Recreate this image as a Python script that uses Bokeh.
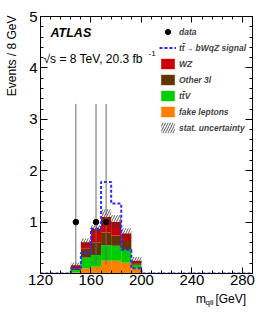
import numpy as np
from bokeh.plotting import figure
from bokeh.layouts import column, row
from bokeh.models import Range1d, FixedTicker, LinearAxis, Label, Legend, LegendItem
from bokeh.embed import file_html
from bokeh.resources import INLINE

# ---------------- data ----------------
bin_lefts = [120, 128, 136, 144, 152, 160, 168, 176, 184, 192, 200,
             208, 216, 224, 232, 240, 248, 256, 264, 272, 280]
bin_width = 8
fake_leptons = [0, 0, 0, 0.02, 0.10, 0.13, 0.25, 0.25, 0.21, 0.10, 0,
                0, 0, 0, 0, 0, 0, 0, 0, 0, 0]
ttV = [0, 0, 0, 0.05, 0.21, 0.23, 0.30, 0.29, 0.25, 0.07, 0,
       0, 0, 0, 0, 0, 0, 0, 0, 0, 0]
other_3l = [0, 0, 0, 0.03, 0.17, 0.25, 0.25, 0.20, 0.17, 0.02, 0,
            0, 0, 0, 0, 0, 0, 0, 0, 0, 0]
WZ = [0, 0, 0, 0.06, 0.13, 0.26, 0.30, 0.26, 0.15, 0.06, 0,
      0, 0, 0, 0, 0, 0, 0, 0, 0, 0]
stat_unc = [0, 0, 0, 0.05, 0.07, 0.07, 0.15, 0.14, 0.10, 0.07, 0,
            0, 0, 0, 0, 0, 0, 0, 0, 0, 0]
signal = [0, 0, 0, 0.10, 0.40, 0.87, 1.78, 1.36, 0.46, 0.10, 0,
          0, 0, 0, 0, 0, 0, 0, 0, 0, 0]
data_x = [148, 164, 172]
data_y = [1, 1, 1]
data_err_lo = [0.83, 0.83, 0.83]
data_err_hi = [2.30, 2.30, 2.30]

x_ticks = [120, 160, 200, 240, 280]
y_ticks = [1, 2, 3, 4, 5]

FONT = "Liberation Sans"
STRIP_W = 20  # left strip holding the y-axis title


def lab(fig, x, y, t, size, style="normal", align="left", baseline="middle", angle=0):
    fig.add_layout(Label(x=x, y=y, text=t, text_font=FONT, text_font_size=size,
                         text_font_style=style, text_align=align, text_baseline=baseline,
                         angle=angle, text_color="black"))


def strip(w, h):
    f = figure(width=w, height=h, x_range=Range1d(0, w), y_range=Range1d(0, h),
               output_backend="svg", toolbar_location=None,
               x_axis_type=None, y_axis_type=None,
               min_border_left=0, min_border_right=0, min_border_top=0, min_border_bottom=0)
    f.grid.visible = False
    f.outline_line_color = None
    f.background_fill_color = "white"
    return f


# ---------------- main figure ----------------
X0, X1, Y0, Y1 = 120, 288, 0, 5
p = figure(width=266 - STRIP_W, height=292, x_range=Range1d(X0, X1), y_range=Range1d(Y0, Y1),
           output_backend="svg", toolbar_location=None,
           min_border_left=40 - STRIP_W, min_border_right=14, min_border_top=16,
           min_border_bottom=19)
p.grid.visible = False
p.outline_line_color = "black"
p.outline_line_width = 1
p.background_fill_color = "white"

# picture pixel -> data helpers for text placement (frame 40..252 x 16..273)
def xd(px):
    return X0 + (px - 40) * (X1 - X0) / 212.0

def yd(py):
    return (273.0 - py) * (Y1 - Y0) / 257.0

lefts = np.array(bin_lefts, dtype=float)
rights = lefts + bin_width
layers = [("fake leptons", fake_leptons, "#ff7f00"),
          ("ttV", ttV, "#00cc00"),
          ("Other 3l", other_3l, "#663300"),
          ("WZ", WZ, "#cc0000")]
bottom = np.zeros(len(bin_lefts))
rend = {}
for name, vals, col in layers:
    v = np.array(vals, dtype=float)
    rend[name] = p.quad(left=lefts, right=rights, bottom=bottom, top=bottom + v,
                        fill_color=col, line_color=None)
    bottom = bottom + v
total = bottom
err = np.array(stat_unc)
rend["stat"] = p.quad(left=lefts, right=rights, bottom=total - err, top=total + err,
                      fill_alpha=0, line_alpha=0, hatch_pattern="/",
                      hatch_color="#333333", hatch_scale=5, hatch_weight=0.8)

edges = list(bin_lefts) + [bin_lefts[-1] + bin_width]
sig_y = list(signal) + [signal[-1]]
rend["signal"] = p.step(x=edges, y=sig_y, mode="after", line_color="#2b2bff",
                        line_dash="3 2", line_width=2)

dx = np.array(data_x, dtype=float)
dy = np.array(data_y, dtype=float)
p.segment(x0=dx, y0=dy - np.array(data_err_lo), x1=dx, y1=dy + np.array(data_err_hi),
          line_color="#6a6a6a", line_width=1)
rend["data"] = p.scatter(dx, dy, size=5.5, color="black")

# ---------------- axes ----------------
xt = FixedTicker(ticks=x_ticks, minor_ticks=list(range(120, 289, 8)))
yt = FixedTicker(ticks=y_ticks, minor_ticks=[round(0.2 * i, 1) for i in range(26)])
for ax, tk, L in ((p.xaxis[0], xt, 6), (p.yaxis[0], yt, 7)):
    ax.ticker = tk
    ax.major_tick_in = L
    ax.major_tick_out = 0
    ax.minor_tick_in = 3
    ax.minor_tick_out = 0
    ax.major_label_text_font = FONT
    ax.major_label_text_font_size = "15px"
    ax.major_label_text_color = "black"
    ax.axis_line_color = "black"
p.xaxis[0].major_label_standoff = 1
p.yaxis[0].major_label_standoff = 3

# mirrored tick marks on top and right (no labels)
for loc, tk, L in (("above", xt, 6), ("right", yt, 7)):
    ax = LinearAxis(ticker=tk, major_tick_in=L, major_tick_out=0, minor_tick_in=3,
                    minor_tick_out=0, major_label_text_font_size="0px",
                    major_label_text_color=None, major_label_text_alpha=0,
                    major_label_standoff=0, axis_line_color="black")
    p.add_layout(ax, loc)

# ---------------- texts in frame ----------------
lab(p, xd(50), yd(32), "ATLAS", "12.5px", "bold italic")
lab(p, xd(43), yd(58), "√s = 8 TeV, 20.3 fb", "12px")
lab(p, xd(148), yd(53), "-1", "8px")

# ---------------- legend ----------------
items = [LegendItem(label="data", renderers=[rend["data"]]),
         LegendItem(label="tt̄→ bWqZ signal", renderers=[rend["signal"]]),
         LegendItem(label="WZ", renderers=[rend["WZ"]]),
         LegendItem(label="Other 3l", renderers=[rend["Other 3l"]]),
         LegendItem(label="tt̄V", renderers=[rend["ttV"]]),
         LegendItem(label="fake leptons", renderers=[rend["fake leptons"]]),
         LegendItem(label="stat. uncertainty", renderers=[rend["stat"]])]
legend = Legend(items=items, location=(119, 139), padding=0, margin=0, spacing=3,
                glyph_width=17, glyph_height=13, label_height=13, label_standoff=3,
                border_line_alpha=0, background_fill_alpha=0,
                label_text_font=FONT, label_text_font_style="bold italic",
                label_text_font_size="8.5px")
p.add_layout(legend)

# ---------------- y-axis title strip (picture x 0..20) ----------------
ys = strip(STRIP_W, 317)
lab(ys, 11, 317 - 15, "Events / 8 GeV", "12px", align="right", angle=np.pi / 2)

# ---------------- x-axis title strip (picture y 292..317) ----------------
q = strip(266 - STRIP_W, 25)
lab(q, 200.5 - STRIP_W, 317 - 298, "m", "12px")
lab(q, 211.5 - STRIP_W, 317 - 302, "qll", "8px")
lab(q, 223 - STRIP_W, 317 - 298, "[GeV]", "12px")

layout = row(ys, column(p, q, spacing=0), spacing=0)
open("out.html", "w").write(file_html(layout, INLINE))
